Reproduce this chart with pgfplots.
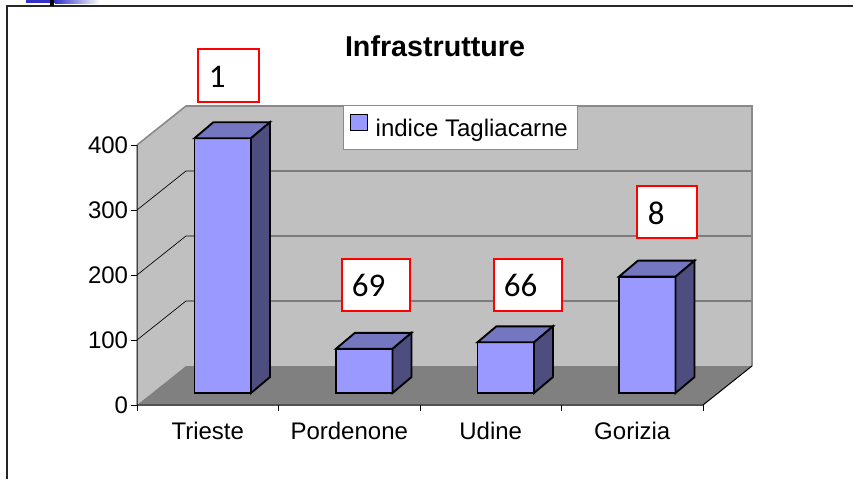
\documentclass[border=0pt]{standalone}
\usepackage{pgfplots}
\pgfplotsset{compat=1.18}
\usepackage{pgfplotstable}
\usepackage{fontspec}
\setmainfont{Liberation Sans}
\newfontfamily\carlito{Carlito}
\definecolor{barfront}{HTML}{9999FF}
\definecolor{bartop}{HTML}{7476C0}
\definecolor{barside}{HTML}{4D4D80}
\definecolor{wall}{HTML}{C0C0C0}
\definecolor{floorc}{HTML}{808080}
\definecolor{walledge}{HTML}{8A8A8A}
\definecolor{titleblue}{HTML}{3333CC}
\pgfplotstableread{
x v
0 392
1 68
2 78
3 179
}\datatable
\begin{document}
\begin{tikzpicture}
\path[use as bounding box] (0,0) rectangle (639.75pt,-359.25pt);
% axis A: walls, floor, ticks
\begin{axis}[
  at={(102.75pt,-303.75pt)}, anchor=south west,
  scale only axis, width=424.5pt, height=195pt,
  xmin=-0.5, xmax=3.5, ymin=0, ymax=400,
  clip=false,
  axis line style={draw=none},
  tick pos=left, tick align=outside,
  major tick length=4.5pt,
  tick style={black, line width=0.6pt},
  ytick={0,100,200,300,400},
  xtick={-0.5,0.5,1.5,2.5,3.5},
  xticklabels={,,,,},
  extra x ticks={0,1,2,3},
  extra x tick labels={Trieste,Pordenone,Udine,Gorizia},
  extra x tick style={major tick length=0pt, tick style={draw=none}},
  ticklabel style={font=\fontsize{18}{21}\selectfont},
  /pgf/number format/assume math mode=true,
  yticklabel style={inner xsep=2pt},
  xticklabel style={inner sep=0pt, yshift=-13pt},
]
\fill[wall] (axis cs:-0.5,0) -- (axis cs:-0.154,60) -- (axis cs:-0.154,460) -- (axis cs:-0.5,400) -- cycle;
\fill[wall] (axis cs:-0.154,60) rectangle (axis cs:3.846,460);
\fill[floorc] (axis cs:-0.5,0) -- (axis cs:3.5,0) -- (axis cs:3.846,60) -- (axis cs:-0.154,60) -- cycle;
\draw[black, line width=0.5pt] (axis cs:-0.5,100) -- (axis cs:-0.154,160) -- (axis cs:3.846,160);
\draw[black, line width=0.5pt] (axis cs:-0.5,200) -- (axis cs:-0.154,260) -- (axis cs:3.846,260);
\draw[black, line width=0.5pt] (axis cs:-0.5,300) -- (axis cs:-0.154,360) -- (axis cs:3.846,360);
\draw[walledge, line width=1.2pt] (axis cs:-0.5,400) -- (axis cs:-0.154,460) -- (axis cs:3.846,460) -- (axis cs:3.846,60);
\draw[black, line width=0.75pt] (axis cs:-0.5,400) -- (axis cs:-0.5,0) -- (axis cs:3.5,0) -- (axis cs:3.846,60);
\end{axis}
% axis B: bars
\begin{axis}[
  at={(114pt,-294.75pt)}, anchor=south west,
  scale only axis, width=424.5pt, height=195pt,
  xmin=-0.5, xmax=3.5, ymin=0, ymax=400,
  clip=false, hide axis, no markers,
  legend style={at={(0.3375,1.1077)}, anchor=north west, draw=walledge, line width=0.75pt, fill=white,
    inner xsep=5pt, inner ysep=6pt, font=\fontsize{18}{21}\selectfont, nodes={inner sep=2pt},
    /tikz/every odd column/.append style={column sep=4pt}},
  legend image code/.code={\draw[fill=barfront, draw=black, line width=0.75pt] (0pt,-1.3pt) rectangle (12.4pt,11.1pt);},
]
\addplot[ybar, bar width=0.4, bar shift=0pt, fill=barfront, draw=black, line width=1.4pt] table[x=x,y=v]{\datatable};
\addlegendentry{indice Tagliacarne}
% tops
\addplot[fill=bartop, draw=black, line width=1.4pt, forget plot] coordinates {(-0.2,392) (0.2,392) (0.334,416.6) (-0.066,416.6)} --cycle;
\addplot[fill=bartop, draw=black, line width=1.4pt, forget plot] coordinates {(0.8,68) (1.2,68) (1.334,92.6) (0.934,92.6)} --cycle;
\addplot[fill=bartop, draw=black, line width=1.4pt, forget plot] coordinates {(1.8,78) (2.2,78) (2.334,102.6) (1.934,102.6)} --cycle;
\addplot[fill=bartop, draw=black, line width=1.4pt, forget plot] coordinates {(2.8,179) (3.2,179) (3.334,203.6) (2.934,203.6)} --cycle;
% sides
\addplot[fill=barside, draw=black, line width=1.4pt, forget plot] coordinates {(0.2,0) (0.334,24.6) (0.334,416.6) (0.2,392)} --cycle;
\addplot[fill=barside, draw=black, line width=1.4pt, forget plot] coordinates {(1.2,0) (1.334,24.6) (1.334,92.6) (1.2,68)} --cycle;
\addplot[fill=barside, draw=black, line width=1.4pt, forget plot] coordinates {(2.2,0) (2.334,24.6) (2.334,102.6) (2.2,78)} --cycle;
\addplot[fill=barside, draw=black, line width=1.4pt, forget plot] coordinates {(3.2,0) (3.334,24.6) (3.334,203.6) (3.2,179)} --cycle;
\end{axis}
\begin{scope}[x=0.75pt, y=-0.75pt]
\node[anchor=base, font=\bfseries\fontsize{21.5}{25}\selectfont] at (435,56) {Infrastrutture};
\draw[red, line width=1.5pt, fill=white] (197.7,49.3) rectangle (259.3,101.7);
\node[anchor=base west, inner sep=0pt, font=\carlito\fontsize{24.75}{30}\selectfont] at (208.7,87.7) {1};
\draw[red, line width=1.5pt, fill=white] (341.7,259) rectangle (410,311);
\node[anchor=base west, inner sep=0pt, font=\carlito\fontsize{24.75}{30}\selectfont] at (351.5,296.7) {69};
\draw[red, line width=1.5pt, fill=white] (494,259) rectangle (562,311);
\node[anchor=base west, inner sep=0pt, font=\carlito\fontsize{24.75}{30}\selectfont] at (503.5,296.7) {66};
\draw[red, line width=1.5pt, fill=white] (636.7,185.7) rectangle (697.3,238.3);
\node[anchor=base west, inner sep=0pt, font=\carlito\fontsize{24.75}{30}\selectfont] at (647.5,224.3) {8};
\draw[black!85, line width=1.5pt] (7,479) -- (7,5.5) -- (853,5.5);
\fill[titleblue] (26,0) rectangle (55,3.3);
\shade[left color=titleblue, right color=white] (55,0) rectangle (100,3.3);
\fill[black] (50,0) rectangle (54,6);
\end{scope}
\end{tikzpicture}
\end{document}
